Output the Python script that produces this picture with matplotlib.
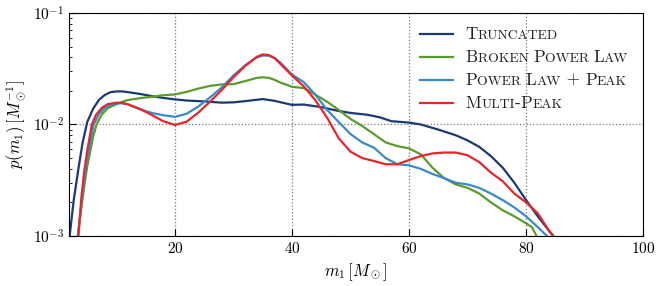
import matplotlib
matplotlib.use("Agg")
from matplotlib import pyplot as plt
from matplotlib.offsetbox import AnchoredOffsetbox, TextArea, HPacker, DrawingArea
from matplotlib.lines import Line2D

plt.rcParams['font.family'] = 'serif'
plt.rcParams['font.serif'] = ['cmr10']
plt.rcParams['mathtext.fontset'] = 'cm'
plt.rcParams['axes.formatter.use_mathtext'] = True

# mass grid points and densities
trunc_m = [1.5, 2.0, 2.7, 3.5, 4.2, 5.0, 6.0, 7.0, 8.0, 9.0, 10, 11, 12, 14, 16, 18, 20, 22,
           25, 28, 30, 32, 35, 37, 40, 42, 45, 48, 50, 53, 55, 57, 60, 62, 65, 68, 70, 72,
           74, 76, 78, 80, 82, 84, 85, 86]
trunc_p = [0.0005, 0.001, 0.0021, 0.004, 0.0068, 0.0105, 0.0138, 0.0166, 0.0184, 0.0195,
           0.0198, 0.0198, 0.0195, 0.0188, 0.0180, 0.0173, 0.0168, 0.0164, 0.0161, 0.0157,
           0.0158, 0.0162, 0.0169, 0.0163, 0.0150, 0.0151, 0.0143, 0.0132, 0.0127, 0.0122,
           0.0116, 0.0107, 0.0104, 0.0100, 0.0090, 0.0080, 0.0072, 0.0063, 0.0052, 0.0041,
           0.0030, 0.0021, 0.0015, 0.0011, 0.00095, 0.0008]

bpl_m = [2.5, 3.4, 4.0, 4.5, 5.0, 6.0, 6.6, 7.5, 8.5, 10, 11, 12, 14, 16, 18, 20, 22, 24, 26,
         28, 30, 32, 34, 35, 36, 37, 38, 40, 42, 44, 46, 48, 50, 52, 54, 56, 58, 60, 62, 64,
         66, 68, 70, 72, 74, 76, 78, 80, 81, 82, 83]
bpl_p = [0.0005, 0.001, 0.0018, 0.0028, 0.0042, 0.0077, 0.0100, 0.0123, 0.0140, 0.0152,
         0.0160, 0.0166, 0.0172, 0.0177, 0.0183, 0.0186, 0.0196, 0.0210, 0.0222, 0.0229,
         0.0230, 0.0245, 0.0262, 0.0265, 0.0262, 0.0252, 0.0238, 0.0218, 0.0212, 0.0185,
         0.0160, 0.0135, 0.0112, 0.0097, 0.0082, 0.0069, 0.0064, 0.0061, 0.0054, 0.0041,
         0.0033, 0.0029, 0.0027, 0.0024, 0.0020, 0.0017, 0.0015, 0.0013, 0.0012, 0.00095,
         0.0008]

plp_m = [2.5, 3.4, 4.0, 4.5, 5.0, 6.1, 7.0, 8.0, 9.0, 10, 11, 12, 14, 16, 18, 20, 22, 24, 26,
         28, 30, 32, 34, 35, 36, 37, 38, 40, 42, 44, 46, 48, 50, 52, 54, 56, 58, 60, 62, 64,
         66, 68, 70, 72, 74, 76, 78, 80, 82, 84, 85]
plp_p = [0.0005, 0.001, 0.0019, 0.0032, 0.0050, 0.0100, 0.0124, 0.0141, 0.0150, 0.0154,
         0.0155, 0.0152, 0.0137, 0.0127, 0.0121, 0.0117, 0.0125, 0.0145, 0.0175, 0.0215,
         0.0275, 0.0340, 0.0400, 0.0415, 0.0415, 0.0395, 0.0360, 0.0280, 0.0240, 0.0185,
         0.0135, 0.0105, 0.0082, 0.0069, 0.0062, 0.0050, 0.0044, 0.0043, 0.0040, 0.0036,
         0.0033, 0.0030, 0.0029, 0.0027, 0.0024, 0.0021, 0.0018, 0.0015, 0.0012, 0.00095,
         0.0008]

mp_m = [2.5, 3.5, 4.0, 4.5, 5.0, 5.8, 6.5, 7.5, 8.5, 10, 11, 12, 14, 16, 18, 20, 22, 24, 26,
        28, 30, 32, 34, 35, 36, 37, 38, 40, 42, 44, 46, 48, 50, 52, 54, 56, 58, 60, 62, 64,
        66, 68, 70, 72, 74, 76, 78, 80, 82, 84, 85, 86]
mp_p = [0.0005, 0.001, 0.0022, 0.0038, 0.0058, 0.0100, 0.0122, 0.0141, 0.0152, 0.0157,
        0.0156, 0.0151, 0.0138, 0.0122, 0.0107, 0.0099, 0.0106, 0.0128, 0.0160, 0.0204,
        0.0265, 0.0335, 0.0405, 0.0425, 0.0420, 0.0395, 0.0350, 0.0275, 0.0220, 0.0165,
        0.0115, 0.0075, 0.0057, 0.0050, 0.0047, 0.0044, 0.0044, 0.0048, 0.0052, 0.0055,
        0.0056, 0.0056, 0.0053, 0.0046, 0.0037, 0.0031, 0.0024, 0.0020, 0.0016, 0.0011,
        0.00095, 0.0008]

# legend labels split into (text, is_capital) pieces to fake small caps
labels = [
    [("T", 1), ("RUNCATED", 0)],
    [("B", 1), ("ROKEN ", 0), ("P", 1), ("OWER ", 0), ("L", 1), ("AW", 0)],
    [("P", 1), ("OWER ", 0), ("L", 1), ("AW", 0), (" + ", 1), ("P", 1), ("EAK", 0)],
    [("M", 1), ("ULTI", 0), ("-", 1), ("P", 1), ("EAK", 0)],
]
colors = ['#1b3a72', '#5a9b2c', '#3a8ac8', '#e6262b']

fig = plt.figure(figsize=(6.64, 2.86), dpi=100)
ax = fig.add_axes([0.104, 0.175, 0.8645, 0.7795])

series = [(trunc_m, trunc_p), (bpl_m, bpl_p), (plp_m, plp_p), (mp_m, mp_p)]
for (m, p), c in zip(series, colors):
    ax.plot(m, p, color=c, lw=1.6)

ax.set_yscale('log')
ax.set_xlim(1.9, 100)
ax.set_ylim(1e-3, 1e-1)
ax.set_xticks([20, 40, 60, 80, 100])
ax.tick_params(which='both', direction='in', labelsize=11)
ax.tick_params(which='major', length=5)
ax.tick_params(which='minor', length=2.5)
ax.grid(True, which='major', color='#777777', ls=':', lw=0.9)
ax.set_xlabel(r'$m_1\,[M_\odot]$', fontsize=12)
ax.set_ylabel(r'$p(m_1)\,[M_\odot^{-1}]$', fontsize=12)

# legend rows
row_y = [0.880, 0.800, 0.720, 0.640]
for pieces, c, y in zip(labels, colors, row_y):
    da = DrawingArea(24, 8, 0, 0)
    da.add_artist(Line2D([0, 24], [4, 4], color=c, lw=1.6))
    texts = [TextArea(t, textprops=dict(fontsize=12.3 if big else 9.8, color='#222222'))
             for t, big in pieces]
    txt = HPacker(children=texts, align='baseline', pad=0, sep=0)
    row = HPacker(children=[da, txt], align='center', pad=0, sep=9)
    box = AnchoredOffsetbox(loc='center left', child=row, pad=0, borderpad=0,
                            frameon=False, bbox_to_anchor=(0.632, y),
                            bbox_transform=fig.transFigure)
    ax.add_artist(box)

fig.savefig('out.png', dpi=100)
